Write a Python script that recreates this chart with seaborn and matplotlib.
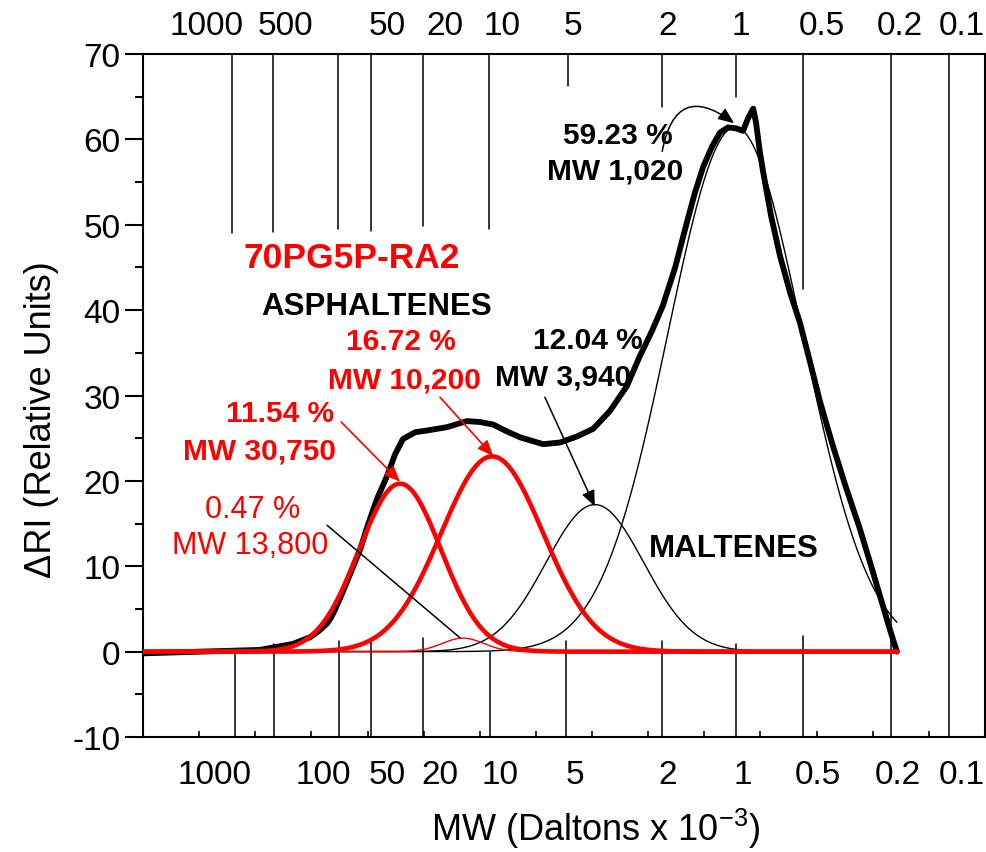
import numpy as np
import pandas as pd
import matplotlib
matplotlib.use("Agg")
import matplotlib.pyplot as plt
import seaborn as sns

# ---------------- data ----------------
# measured refractive-index trace (elution axis units, ΔRI)
trace_x = [0.00, 1.02, 2.08, 2.67, 2.98, 3.13, 3.28, 3.35, 3.42, 3.56, 3.71, 3.87,
           4.01, 4.17, 4.35, 4.49, 4.63, 4.85, 5.06, 5.42, 5.77, 6.00, 6.24, 6.48,
           6.72, 7.13, 7.43, 7.73, 8.02, 8.32, 8.62, 8.85, 9.07, 9.26, 9.48, 9.69,
           9.83, 9.98, 10.14, 10.28, 10.42, 10.56, 10.69, 10.78, 10.87, 10.92,
           10.99, 11.05, 11.19, 11.35, 11.53, 11.70, 11.88, 12.06, 12.29, 12.51,
           12.77, 12.95, 13.13, 13.31, 13.43]
trace_y = [-0.2, 0.0, 0.2, 0.9, 1.7, 2.4, 3.3, 4.0, 4.9, 7.0, 9.4, 12.0,
           14.9, 17.9, 20.6, 23.1, 24.9, 25.7, 25.9, 26.3, 27.0, 26.9, 26.6, 25.8,
           25.1, 24.3, 24.5, 25.2, 26.1, 28.2, 31.1, 34.6, 37.6, 40.5, 45.0, 50.3,
           53.7, 56.8, 59.2, 60.8, 61.4, 61.3, 61.0, 62.5, 63.6, 62.0,
           58.5, 56.1, 51.0, 46.3, 42.0, 38.6, 34.0, 29.3, 24.1, 19.5,
           14.4, 10.5, 6.5, 2.5, 0.0]

# Gaussian peak fit: area share (%), centre and width on the elution axis
peak_names = ["MW 30,750", "MW 13,800", "MW 10,200", "MW 3,940", "MW 1,020"]
peak_area_pct = [11.54, 0.47, 16.72, 12.04, 59.23]
peak_center = [4.58, 5.70, 6.22, 8.05, 10.55]
peak_sigma = [0.73, 0.37, 0.91, 0.87, 1.20]
area_per_pct = 3.12          # detector response: ΔRI·units per % of total area
fit_end = 13.43

# molecular-weight calibration marks (kDa)
top_mark_x = [1.59, 2.31, 3.48, 4.06, 4.98, 6.16, 7.57, 9.24, 10.56, 11.75, 13.33, 14.36]
top_mark_end = [49.0, 49.1, 49.5, 49.3, 49.8, 49.5, 66.2, 63.8, 65.0, 42.5, -10, -10]
bot_mark_x = [1.64, 2.33, 3.49, 4.06, 4.98, 6.18, 7.54, 9.24, 10.56, 11.76, 13.33, 14.36]
bot_mark_end = [-0.3, 0.9, 1.2, 1.2, 1.6, 0.0, 1.2, 1.2, 0.9, 1.8, -10, -10]

top_labels = ["1000", "500", "50", "20", "10", "5", "2", "1", "0.5", "0.2", "0.1"]
top_label_x = [1.14, 2.53, 4.35, 5.38, 6.40, 7.66, 9.35, 10.64, 12.10, 13.49, 14.59]
bot_labels = ["1000", "100", "50", "20", "10", "5", "2", "1", "0.5", "0.2", "0.1"]
bot_label_x = [1.28, 3.21, 4.35, 5.29, 6.36, 7.70, 9.34, 10.69, 12.03, 13.45, 14.59]

# ---------------- style ----------------
sns.set_style("ticks")
plt.rcParams["font.family"] = ["Liberation Sans", "DejaVu Sans"]
plt.rcParams["mathtext.fontset"] = "custom"
plt.rcParams["mathtext.rm"] = "Liberation Sans"
plt.rcParams["axes.unicode_minus"] = False
for key in ["text.color", "axes.labelcolor", "xtick.color", "ytick.color",
            "xtick.labelcolor", "ytick.labelcolor"]:
    plt.rcParams[key] = "black"

RED = "#ff0000"
fig = plt.figure(figsize=(9.86, 8.53), dpi=100)
ax = fig.add_axes([0.145, 0.1348, 0.854, 0.8007])

# ---------------- fitted components ----------------
grid = np.linspace(0, fit_end, 700)
rows = []
for name, pct, c, s in zip(peak_names, peak_area_pct, peak_center, peak_sigma):
    h = pct * area_per_pct / (s * np.sqrt(2 * np.pi))
    for gx in grid:
        rows.append({"x": gx, "y": h * np.exp(-0.5 * ((gx - c) / s) ** 2), "peak": name})
comp = pd.DataFrame(rows)

for name in ["MW 3,940", "MW 1,020"]:
    d = comp[comp.peak == name]
    sns.lineplot(data=d, x="x", y="y", ax=ax, color="black", lw=1.0,
                 estimator=None, sort=False, zorder=3)

trace = pd.DataFrame({"x": trace_x, "y": trace_y})
sns.lineplot(data=trace, x="x", y="y", ax=ax, color="black", lw=4.2,
             estimator=None, sort=False, zorder=4)

for name in ["MW 30,750", "MW 10,200", "MW 13,800"]:
    d = comp[comp.peak == name]
    lw = 1.0 if name == "MW 13,800" else 3.3
    sns.lineplot(data=d, x="x", y="y", ax=ax, color=RED, lw=lw,
                 estimator=None, sort=False, zorder=5)

# ---------------- calibration marks ----------------
for x, e in zip(top_mark_x, top_mark_end):
    ax.plot([x, x], [70, e], color="black", lw=1.1, zorder=2)
for x, e in zip(bot_mark_x, bot_mark_end):
    ax.plot([x, x], [-10, e], color="black", lw=1.1, zorder=2)

for x, t in zip(top_label_x, top_labels):
    ax.text(x, 1.042, t, transform=ax.get_xaxis_transform(), ha="center",
            va="center", fontsize=24, clip_on=False)
for x, t in zip(bot_label_x, bot_labels):
    ax.text(x, -0.0556, t, transform=ax.get_xaxis_transform(), ha="center",
            va="center", fontsize=24, clip_on=False)

# ---------------- axes ----------------
ax.set_xlim(0, 15)
ax.set_ylim(-10, 70)
ax.set_xticks(np.arange(0, 16, 1))
ax.set_xticklabels([])
ax.tick_params(axis="x", which="major", direction="in", length=4, width=1.2,
               top=False, bottom=True)
ax.set_yticks(np.arange(-10, 71, 10))
ax.set_yticks(np.arange(-5, 70, 10), minor=True)
ax.tick_params(axis="y", which="major", direction="out", length=13, width=1.5,
               labelsize=24, pad=3)
ax.tick_params(axis="y", which="minor", direction="out", length=6, width=1.5)
for sp in ax.spines.values():
    sp.set_visible(True)
    sp.set_linewidth(1.5)
    sp.set_color("black")

ax.set_xlabel("MW (Daltons x 10$^{-3}$)", fontsize=26)
ax.xaxis.set_label_coords(0.537, -0.100)
ax.set_ylabel("ΔRI (Relative Units)", fontsize=26)
ax.yaxis.set_label_coords(-0.100, 0.466)

# ---------------- annotations ----------------
bold = dict(fontsize=21.5, fontweight="bold", ha="center", va="center", zorder=6)
ax.text(3.72, 46.2, "70PG5P-RA2", color=RED, fontsize=25.5, fontweight="bold",
        ha="center", va="center")
ax.text(4.17, 40.5, "ASPHALTENES", color="black", fontsize=22.5, fontweight="bold",
        ha="center", va="center")
ax.text(10.53, 12.1, "MALTENES", color="black", fontsize=22.5, fontweight="bold",
        ha="center", va="center")

ax.text(4.60, 36.4, f"{peak_area_pct[2]:.2f} %", color=RED, **bold)
ax.text(4.65, 31.9, peak_names[2], color=RED, **bold)
ax.text(2.44, 28.0, f"{peak_area_pct[0]:.2f} %", color=RED, **bold)
ax.text(2.08, 23.6, peak_names[0], color=RED, **bold)
ax.text(1.96, 16.7, f"{peak_area_pct[1]:.2f} %", color=RED, fontsize=22,
        ha="center", va="center")
ax.text(1.91, 12.5, peak_names[1], color=RED, fontsize=22, ha="center", va="center")
ax.text(7.93, 36.5, f"{peak_area_pct[3]:.2f} %", color="black", **bold)
ax.text(7.48, 32.2, peak_names[3], color="black", **bold)
ax.text(8.46, 60.5, f"{peak_area_pct[4]:.2f} %", color="black", **bold)
ax.text(8.41, 56.3, peak_names[4], color="black", **bold)

head = "-|>,head_length=0.6,head_width=0.25"
ax.annotate("", xy=(4.58, 19.9), xytext=(3.53, 26.9),
            arrowprops=dict(arrowstyle=head, color=RED, lw=1.2,
                            mutation_scale=16, shrinkA=0, shrinkB=0), zorder=6)
ax.annotate("", xy=(6.24, 22.9), xytext=(5.29, 29.8),
            arrowprops=dict(arrowstyle=head, color=RED, lw=1.2,
                            mutation_scale=16, shrinkA=0, shrinkB=0), zorder=6)
ax.annotate("", xy=(5.65, 1.6), xytext=(3.28, 14.8),
            arrowprops=dict(arrowstyle="-", color="black", lw=1.1,
                            shrinkA=0, shrinkB=0), zorder=6)
ax.annotate("", xy=(8.05, 17.0), xytext=(7.16, 29.8),
            arrowprops=dict(arrowstyle=head, color="black", lw=1.1,
                            mutation_scale=16, shrinkA=0, shrinkB=0), zorder=6)
ax.annotate("", xy=(10.53, 61.9), xytext=(9.25, 58.6),
            arrowprops=dict(arrowstyle=head, color="black", lw=1.1,
                            mutation_scale=16, shrinkA=0, shrinkB=0,
                            connectionstyle="arc3,rad=-0.8"), zorder=6)

fig.savefig("out.png", dpi=100)
